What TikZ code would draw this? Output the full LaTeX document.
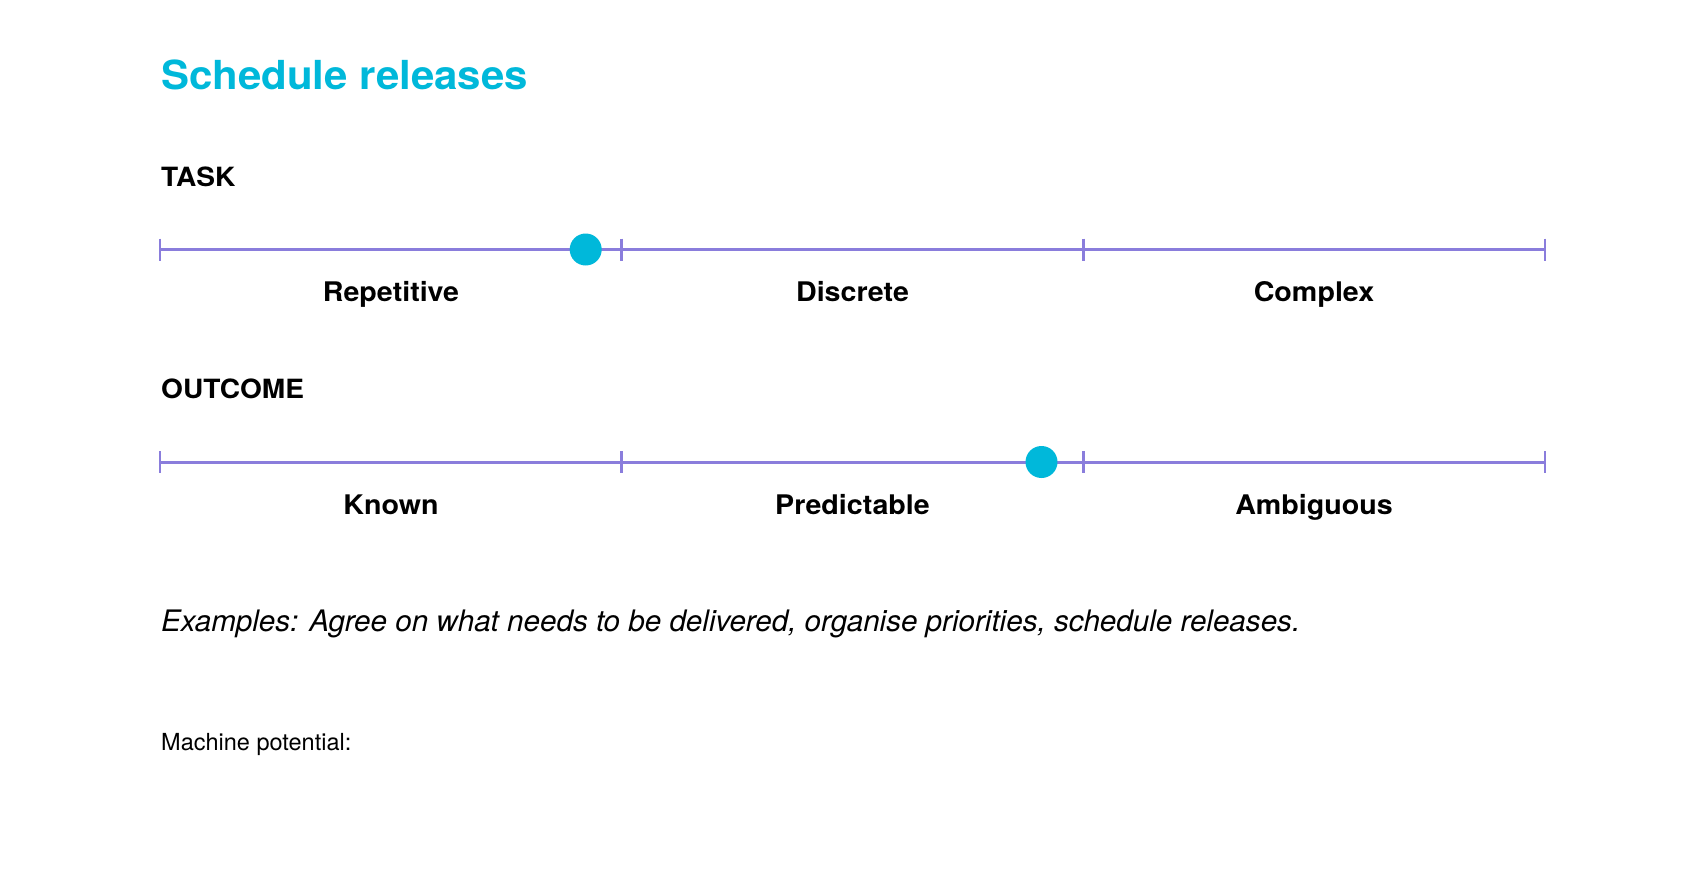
\documentclass[tikz,border=0pt]{standalone}
\usepackage{fontspec}
\setmainfont{TeX Gyre Heros}
\newfontfamily\widefont[FakeStretch=1.06]{TeX Gyre Heros}
\newfontfamily\titlefont[FakeStretch=1.05]{TeX Gyre Heros}
\definecolor{accent}{HTML}{00B8DA}
\definecolor{scale}{HTML}{8A7DDC}
\tikzset{
  x=1pt,y=-1pt,
  title/.style={anchor=base west,inner sep=0pt,text=accent,font=\titlefont\fontsize{40}{48}\selectfont\bfseries},
  heading/.style={anchor=base west,inner sep=0pt,font=\widefont\fontsize{26.5}{30}\selectfont\bfseries},
  cat/.style={anchor=base,inner sep=0pt,font=\widefont\fontsize{27}{30}\selectfont\bfseries},
  scaleline/.style={draw=scale,line width=3pt},
  tick/.style={draw=scale,line width=2.6pt},
  marker/.style={circle,fill=accent,minimum size=32pt,inner sep=0pt},
  note/.style={anchor=base west,inner sep=0pt,font=\fontsize{29.6}{34}\selectfont\itshape},
  small/.style={anchor=base west,inner sep=0pt,font=\fontsize{23.5}{26}\selectfont},
}
\begin{document}
\begin{tikzpicture}
\useasboundingbox[fill=white] (0,0) rectangle (1706,872);
\node[title] (ttl) at (161,90) {Schedule releases};
\node[heading] (task) at (161,186) {TASK};
% task scale
\foreach \i/\x in {0/160,1/621.7,2/1083.3,3/1545}{
  \coordinate (a\i) at (\x,249.5);
  \coordinate (a\i t) at (\x,238.5);
  \coordinate (a\i b) at (\x,260.5);
  \draw[tick] (a\i t) -- (a\i b);
}
\draw[scaleline] (a0) -- (a3);
\node[marker] (dot1) at (585.7,249.5) {};
\node[cat] (rep) at (391,301.7) {Repetitive};
\node[cat] (dis) at (852.5,301.7) {Discrete};
\node[cat] (com) at (1314,301.7) {Complex};
\node[heading] (out) at (161,398) {OUTCOME};
% outcome scale
\foreach \i/\x in {0/160,1/621.7,2/1083.3,3/1545}{
  \coordinate (b\i) at (\x,462);
  \coordinate (b\i t) at (\x,451);
  \coordinate (b\i b) at (\x,473);
  \draw[tick] (b\i t) -- (b\i b);
}
\draw[scaleline] (b0) -- (b3);
\node[marker] (dot2) at (1041.5,462) {};
\node[cat] (kno) at (391,514) {Known};
\node[cat] (pre) at (852.5,514) {Predictable};
\node[cat] (amb) at (1314,514) {Ambiguous};
\node[note] (ex) at (161,631) {Examples: Agree on what needs to be delivered, organise priorities, schedule releases.};
\node[small] (mp) at (161,750) {Machine potential:};
\end{tikzpicture}
\end{document}
